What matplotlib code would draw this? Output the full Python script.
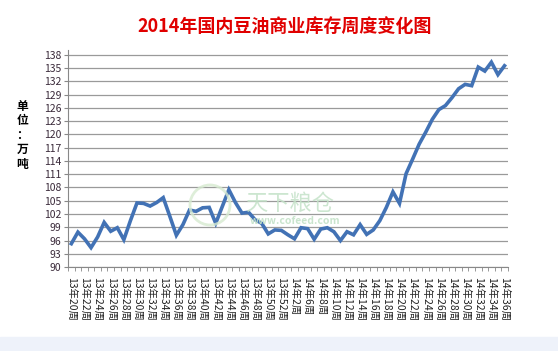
import matplotlib
matplotlib.use('Agg')
import matplotlib.pyplot as plt
from matplotlib.patches import Rectangle, Ellipse

plt.rcParams['font.family'] = ['Noto Sans CJK SC', 'DejaVu Sans']

## weekly labels: 2013 wk20-52, 2014 wk1-2, wk5-36
weeks = (['13年%d周' % w for w in range(20, 53)] +
         ['14年1周', '14年2周'] +
         ['14年%d周' % w for w in range(5, 37)])

stock = [95.3, 97.9, 96.4, 94.4, 96.8, 100.1, 98.1, 98.9, 96.2, 100.5,
         104.5, 104.4, 103.8, 104.6, 105.7, 101.5, 97.2, 99.6, 102.9, 102.6,
         103.4, 103.5, 99.9, 103.7, 107.5, 104.6, 102.2, 102.4, 100.7, 99.9,
         97.5, 98.4, 98.3, 97.3, 96.4, 98.9, 98.7, 96.3, 98.6, 98.9,
         98.0, 96.0, 98.0, 97.3, 99.6, 97.4, 98.4, 100.5, 103.5, 107.0,
         104.4, 111.1, 114.4, 117.8, 120.5, 123.4, 125.6, 126.5, 128.3, 130.3,
         131.3, 131.0, 135.2, 134.3, 136.3, 133.5, 135.5]

yticks = list(range(90, 139, 3))

fig = plt.figure(figsize=(5.58, 3.51), dpi=100)
fig.patches.append(Rectangle((0, 0), 1, 14 / 351, transform=fig.transFigure,
                             color='#eef2fa', zorder=0))

ax = fig.add_axes([0.122, 0.239, 0.788, 0.619])
x = list(range(len(weeks)))
ax.plot(x, stock, color='#4272b5', lw=2.6, solid_joinstyle='miter', zorder=3)

ax.set_ylim(90, 139.1)
ax.set_yticks(yticks)
ax.set_yticklabels([str(v) for v in yticks], fontsize=7.5, color='#3a2a3a')
ax.grid(axis='y', color='#9a9a9a', lw=0.9)
ax.set_axisbelow(True)

ax.set_xlim(-0.5, len(weeks) - 0.5)
ax.set_xticks(x[::2])
ax.set_xticklabels(weeks[::2], rotation=-90, fontsize=7.5, color='#222222')
ax.set_xticks([i - 0.5 for i in range(len(weeks) + 1)], minor=True)
ax.tick_params(axis='x', which='major', length=0, pad=7)
ax.tick_params(axis='x', which='minor', length=3, color='#888888')
ax.tick_params(axis='y', length=3, color='#888888', pad=2)

for s in ['top', 'right']:
    ax.spines[s].set_visible(False)
for s in ['left', 'bottom']:
    ax.spines[s].set_color('#888888')

# watermark
fig.patches.append(Ellipse((210 / 558, 1 - 205 / 351), 40 / 558, 40 / 351,
                           transform=fig.transFigure, fill=False,
                           ec='#d6ead0', lw=2, alpha=0.8))
fig.text(245 / 558, 1 - 203 / 351, '天下粮仓', fontsize=16, color='#c4e2c8',
         alpha=0.85, va='center')
fig.text(250 / 558, 1 - 221 / 351, 'www.cofeed.com', fontsize=7.5,
         color='#c4e2c8', alpha=0.9, va='center', fontweight='bold')

fig.text(0.51, 0.925, '2014年国内豆油商业库存周度变化图', ha='center', va='center',
         fontsize=13, fontweight='bold', color='#e00000')
fig.text(0.04, 0.615, '\n'.join('单位：万吨'), ha='center', va='center',
         fontsize=8.5, fontweight='bold', linespacing=1.15)

fig.savefig('out.png', dpi=100)
